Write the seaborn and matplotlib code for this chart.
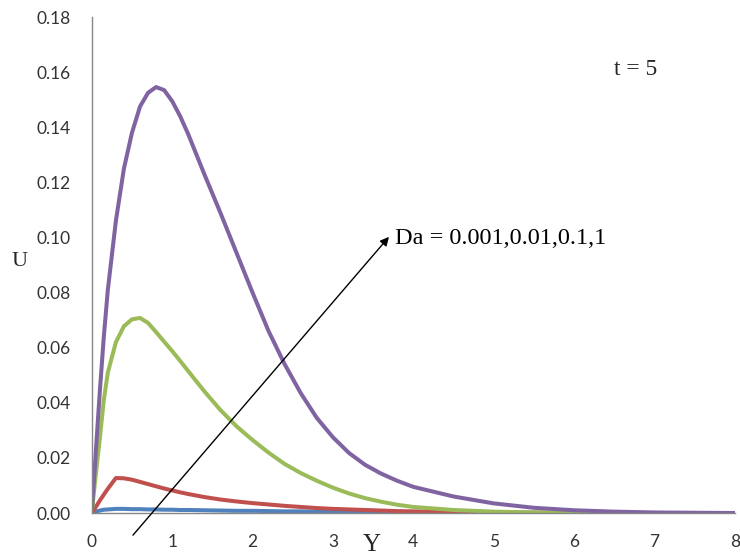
import numpy as np
import pandas as pd
import seaborn as sns
import matplotlib.pyplot as plt

# values (t = 5)
y_pts = [0, 0.05, 0.1, 0.15, 0.2, 0.3, 0.4, 0.5, 0.6, 0.7, 0.8, 0.9, 1.0, 1.1, 1.2, 1.4, 1.6, 1.8,
         2.0, 2.2, 2.4, 2.6, 2.8, 3.0, 3.2, 3.4, 3.6, 3.8, 4.0, 4.5, 5.0, 5.5, 6.0, 6.5, 7.0, 8.0]

u_da0001 = [0, 0.0005, 0.0009, 0.0012, 0.0013, 0.0015, 0.0015, 0.0014, 0.0014, 0.0013, 0.0013, 0.0012,
            0.0012, 0.0011, 0.0011, 0.0010, 0.0009, 0.0008, 0.0008, 0.0007, 0.0006, 0.0006, 0.0005, 0.0005,
            0.0004, 0.0004, 0.0003, 0.0003, 0.0003, 0.0002, 0.0001, 0.0001, 0, 0, 0, 0]
u_da001 = [0, 0.0022, 0.0045, 0.0067, 0.0088, 0.0127, 0.0126, 0.0121, 0.0113, 0.0105, 0.0097, 0.0089,
           0.0082, 0.0075, 0.0069, 0.0058, 0.0049, 0.0042, 0.0036, 0.0031, 0.0026, 0.0022, 0.0018, 0.0015,
           0.0013, 0.0011, 0.0009, 0.0007, 0.0006, 0.0004, 0.0002, 0.0001, 0.0001, 0, 0, 0]
u_da01 = [0, 0.014, 0.027, 0.041, 0.051, 0.062, 0.0678, 0.0703, 0.0708, 0.0690, 0.0657, 0.0622,
          0.0588, 0.0552, 0.0515, 0.0442, 0.0374, 0.0315, 0.0265, 0.0219, 0.0178, 0.0145, 0.0117, 0.0092,
          0.0071, 0.0054, 0.0041, 0.0030, 0.0022, 0.0011, 0.0005, 0.0002, 0.0001, 0, 0, 0]
u_da1 = [0, 0.022, 0.044, 0.064, 0.081, 0.106, 0.125, 0.138, 0.1475, 0.1525, 0.1546, 0.1535,
         0.1495, 0.144, 0.1375, 0.123, 0.109, 0.0945, 0.080, 0.066, 0.054, 0.0435, 0.0345, 0.0275,
         0.0218, 0.0175, 0.0143, 0.0117, 0.0095, 0.0060, 0.0035, 0.0019, 0.0010, 0.0005, 0.0002, 0]

da_labels = ["0.001", "0.01", "0.1", "1"]
colors = ["#4F81BD", "#C0504D", "#9BBB59", "#8064A2"]

df = pd.DataFrame({
    "Y": y_pts * 4,
    "U": u_da0001 + u_da001 + u_da01 + u_da1,
    "Da": sum([[d] * len(y_pts) for d in da_labels], []),
})

sns.set_style("white")
plt.rcParams["font.family"] = ["Lato", "DejaVu Sans"]

fig = plt.figure(figsize=(7.4, 5.56), dpi=100)
ax = fig.add_axes([0.124, 0.0773, 0.869, 0.892])

sns.lineplot(data=df, x="Y", y="U", hue="Da", palette=colors, estimator=None,
             linewidth=2.9, legend=False, ax=ax,
             solid_joinstyle="round", solid_capstyle="round")

ax.set_xlim(0, 8)
ax.set_ylim(0, 0.18)
ax.set_xticks(range(0, 9))
ax.set_yticks(np.arange(0, 0.181, 0.02))
ax.set_yticklabels([f"{v:.2f}" for v in np.arange(0, 0.181, 0.02)])
ax.set_xlabel("")
ax.set_ylabel("")

for s in ["top", "right"]:
    ax.spines[s].set_visible(False)
for s in ["left", "bottom"]:
    ax.spines[s].set_color("#868686")
    ax.spines[s].set_linewidth(1.0)
ax.tick_params(axis="both", direction="out", length=5, width=1, color="#868686",
               labelsize=12.5, labelcolor="#333333", pad=10)

serif = ["Liberation Serif", "DejaVu Serif"]
ax.annotate("", xy=(3.72, 0.101), xytext=(0.49, -0.0088),
            arrowprops=dict(arrowstyle="-|>", color="black", lw=1, mutation_scale=13),
            annotation_clip=False)
ax.text(3.77, 0.0995, "Da = 0.001,0.01,0.1,1", family=serif, fontsize=17.5,
        va="center", ha="left", color="black")
ax.text(6.5, 0.161, "t = 5", family=serif, fontsize=17, va="center", ha="left")
fig.text(0.026, 0.529, "U", family=serif, fontsize=16, va="center", ha="center")
fig.text(0.503, 0.020, "Y", family=serif, fontsize=18, va="center", ha="center")

fig.savefig("out.png", dpi=100)
